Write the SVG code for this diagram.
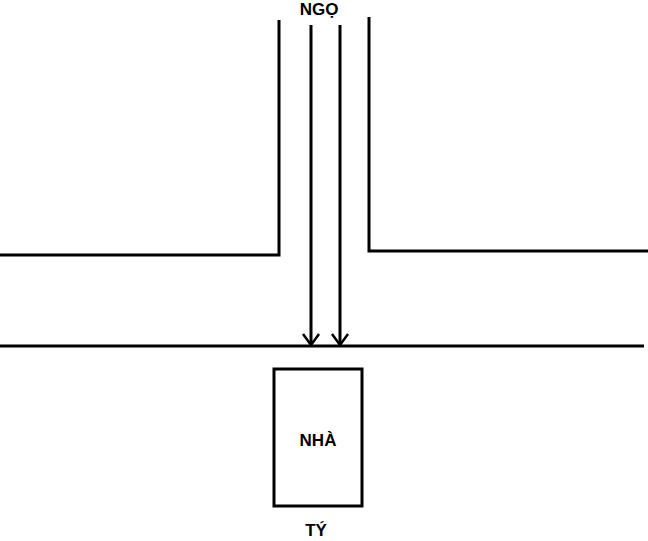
<svg xmlns="http://www.w3.org/2000/svg" width="648" height="541" viewBox="0 0 648 541">
<style>
.l{stroke:#000;stroke-width:3;fill:none}
.t{font-family:"Liberation Sans",Arial,sans-serif;font-size:17px;font-weight:bold;fill:#000;text-anchor:middle}
</style>
<defs>
<marker id="a" viewBox="0 0 20 20" refX="18" refY="10" markerWidth="20" markerHeight="20" markerUnits="userSpaceOnUse" orient="auto">
<path d="M7,2 L18,10 L7,18" fill="none" stroke="#000" stroke-width="2.5"/>
</marker>
</defs>
<rect width="648" height="541" fill="#fff"/>
<g id="streets">
<polyline class="l" points="279,20 279,255 0,255"/>
<polyline class="l" points="369,17 369,251 648,251"/>
<line class="l" x1="0" y1="346" x2="644" y2="346"/>
</g>
<g id="connectors">
<line class="l" x1="311" y1="25" x2="311" y2="345" marker-end="url(#a)"/>
<line class="l" x1="340" y1="25" x2="340" y2="345" marker-end="url(#a)"/>
</g>
<g id="ngo"><text class="t" x="319" y="15">NGỌ</text></g>
<g id="nha">
<rect class="l" x="274" y="369" width="88" height="137"/>
<text class="t" x="318" y="446">NHÀ</text>
</g>
<g id="ty"><text class="t" x="316" y="536">TÝ</text></g>
</svg>
